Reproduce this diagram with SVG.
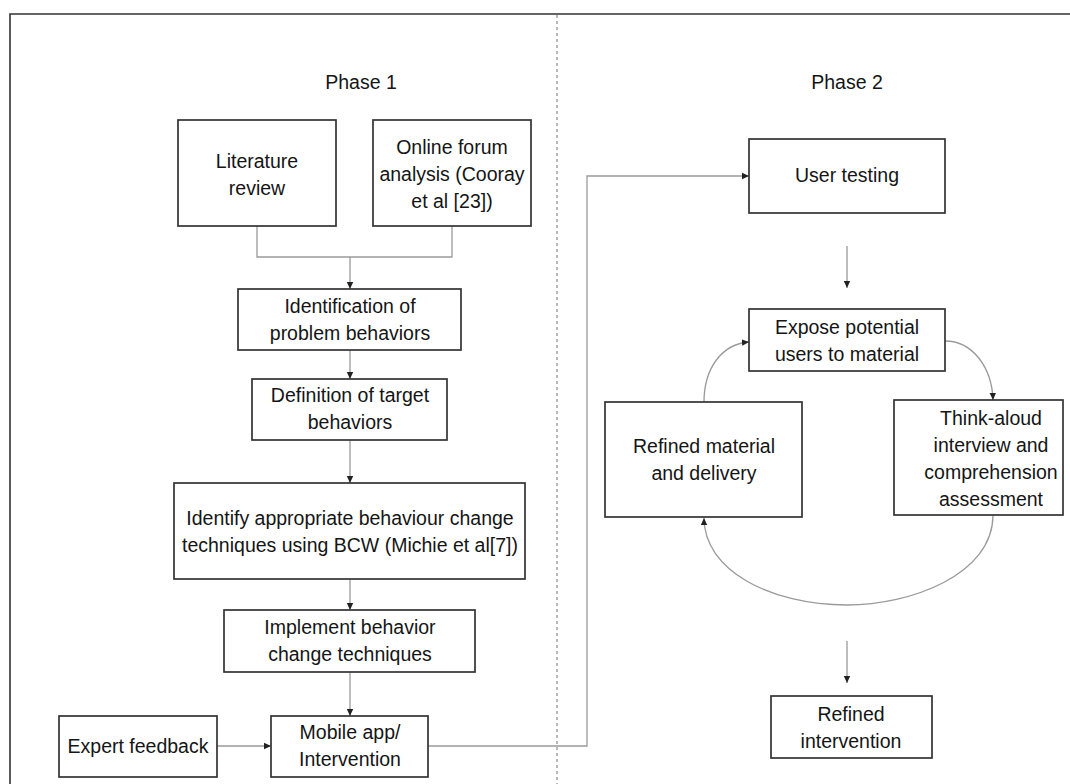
<svg xmlns="http://www.w3.org/2000/svg" width="1070" height="784" viewBox="0 0 1070 784">
<style>
.box{fill:#fff;stroke:#333;stroke-width:1.7}
.t{font-family:"Liberation Sans",Arial,sans-serif;font-size:19.5px;fill:#151515;text-anchor:middle}
.c{fill:none;stroke:#9a9a9a;stroke-width:1.3}
.frame{fill:none;stroke:#333;stroke-width:1.6}
.div{stroke:#8a8a8a;stroke-width:1.2;stroke-dasharray:3,3}
</style>
<defs>
<marker id="ah" markerWidth="8" markerHeight="8" refX="7" refY="4" orient="auto" markerUnits="userSpaceOnUse">
<path d="M0,0.8 L7,4 L0,7.2 Z" fill="#222"/>
</marker>
</defs>
<rect width="1070" height="784" fill="#fff"/>
<path class="frame" d="M10,784 L10,14 L1070,14"/>
<line class="div" x1="557" y1="15" x2="557" y2="784"/>
<text class="t" x="361" y="89">Phase 1</text>
<text class="t" x="847" y="89">Phase 2</text>

<g id="connectors">
<path class="c" d="M257,226 L257,257 L452,257 L452,226"/>
<path class="c" d="M350,257 L350,289" marker-end="url(#ah)"/>
<path class="c" d="M350,350 L350,379" marker-end="url(#ah)"/>
<path class="c" d="M350,440 L350,483" marker-end="url(#ah)"/>
<path class="c" d="M350,579 L350,610" marker-end="url(#ah)"/>
<path class="c" d="M350,672 L350,716" marker-end="url(#ah)"/>
<path class="c" d="M217,746 L271,746" marker-end="url(#ah)"/>
<path class="c" d="M428,746 L587,746 L587,176 L749,176" marker-end="url(#ah)"/>
<path class="c" d="M847,246 L847,288" marker-end="url(#ah)"/>
<path class="c" d="M704,402 C704,368 722,344 749,342" marker-end="url(#ah)"/>
<path class="c" d="M945,341 C973,341 992,368 993,400" marker-end="url(#ah)"/>
<path class="c" d="M993,515 C993,575 910,605 847,605 C770,605 704,570 704,518" marker-end="url(#ah)"/>
<path class="c" d="M847,641 L847,683" marker-end="url(#ah)"/>
</g>

<g id="literature-review">
<rect class="box" x="178" y="120" width="158" height="106"/>
<text class="t" x="257" y="168">Literature</text>
<text class="t" x="257" y="195">review</text>
</g>
<g id="online-forum">
<rect class="box" x="373" y="120" width="158" height="106"/>
<text class="t" x="452" y="154">Online forum</text>
<text class="t" x="452" y="181">analysis (Cooray</text>
<text class="t" x="452" y="208">et al [23])</text>
</g>
<g id="identification">
<rect class="box" x="238" y="289" width="223" height="61"/>
<text class="t" x="350" y="313">Identification of</text>
<text class="t" x="350" y="340">problem behaviors</text>
</g>
<g id="definition">
<rect class="box" x="252" y="379" width="195" height="61"/>
<text class="t" x="350" y="402">Definition of target</text>
<text class="t" x="350" y="429">behaviors</text>
</g>
<g id="identify-bct">
<rect class="box" x="174" y="483" width="351" height="96"/>
<text class="t" x="350" y="525">Identify appropriate behaviour change</text>
<text class="t" x="350" y="552">techniques using BCW (Michie et al[7])</text>
</g>
<g id="implement">
<rect class="box" x="224" y="610" width="251" height="62"/>
<text class="t" x="350" y="634">Implement behavior</text>
<text class="t" x="350" y="661">change techniques</text>
</g>
<g id="expert-feedback">
<rect class="box" x="59" y="716" width="158" height="61"/>
<text class="t" x="138" y="753">Expert feedback</text>
</g>
<g id="mobile-app">
<rect class="box" x="271" y="716" width="157" height="61"/>
<text class="t" x="350" y="739">Mobile app/</text>
<text class="t" x="350" y="766">Intervention</text>
</g>
<g id="user-testing">
<rect class="box" x="749" y="139" width="196" height="74"/>
<text class="t" x="847" y="182">User testing</text>
</g>
<g id="expose">
<rect class="box" x="749" y="309" width="196" height="62"/>
<text class="t" x="847" y="334">Expose potential</text>
<text class="t" x="847" y="361">users to material</text>
</g>
<g id="refined-material">
<rect class="box" x="605" y="402" width="197" height="115"/>
<text class="t" x="704" y="453">Refined material</text>
<text class="t" x="704" y="480">and delivery</text>
</g>
<g id="think-aloud">
<rect class="box" x="894" y="400" width="169" height="115"/>
<text class="t" x="991" y="425">Think-aloud</text>
<text class="t" x="991" y="452">interview and</text>
<text class="t" x="991" y="479">comprehension</text>
<text class="t" x="991" y="506">assessment</text>
</g>
<g id="refined-intervention">
<rect class="box" x="771" y="696" width="161" height="62"/>
<text class="t" x="851" y="721">Refined</text>
<text class="t" x="851" y="748">intervention</text>
</g>
</svg>
